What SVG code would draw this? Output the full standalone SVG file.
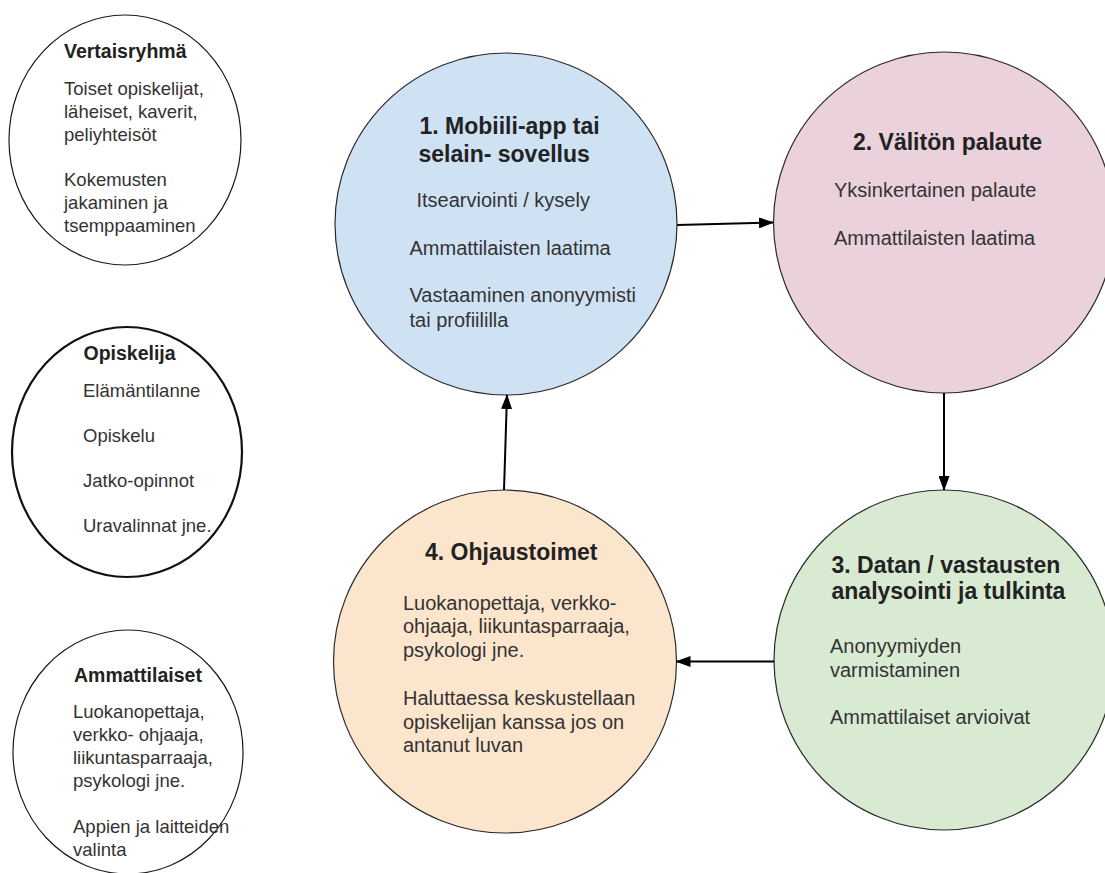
<svg xmlns="http://www.w3.org/2000/svg" width="1105" height="873" viewBox="0 0 1105 873">
  <style>
    text { font-family: "Liberation Sans", Arial, sans-serif; }
    .side { fill: #ffffff; stroke: #1a1a1a; stroke-width: 1.2; }
    .side-bold { fill: #ffffff; stroke: #111111; stroke-width: 2.2; }
    .step { stroke: #2a2a2a; stroke-width: 1.2; }
    .t-side { font-size: 19.5px; font-weight: bold; fill: #222222; }
    .b-side { font-size: 18.5px; fill: #333333; }
    .t-step { font-size: 23px; font-weight: bold; fill: #222222; }
    .b-step { font-size: 20px; fill: #333333; }
    .conn { stroke: #000000; stroke-width: 2; fill: none; marker-end: url(#head); }
  </style>
  <defs>
    <marker id="head" markerUnits="userSpaceOnUse" markerWidth="15" markerHeight="11" refX="14" refY="5.5" orient="auto">
      <path d="M0,0 L15,5.5 L0,11 Z" fill="#000000"/>
    </marker>
  </defs>

  <rect width="1105" height="873" fill="#ffffff"/>

  <!-- side groups -->
  <g id="vertaisryhma">
    <ellipse class="side" cx="125" cy="140" rx="116" ry="125"/>
    <text class="t-side" x="64" y="57.5">Vertaisryhmä</text>
    <text class="b-side" x="64" y="94.5">Toiset opiskelijat,</text>
    <text class="b-side" x="64" y="117.5">läheiset, kaverit,</text>
    <text class="b-side" x="64" y="140.5">peliyhteisöt</text>
    <text class="b-side" x="64" y="186">Kokemusten</text>
    <text class="b-side" x="64" y="209">jakaminen ja</text>
    <text class="b-side" x="64" y="232">tsemppaaminen</text>
  </g>

  <g id="opiskelija">
    <ellipse class="side-bold" cx="127" cy="452" rx="115" ry="125"/>
    <text class="t-side" x="83.5" y="359.5">Opiskelija</text>
    <text class="b-side" x="83" y="397">Elämäntilanne</text>
    <text class="b-side" x="83" y="442">Opiskelu</text>
    <text class="b-side" x="83" y="487">Jatko-opinnot</text>
    <text class="b-side" x="83" y="532">Uravalinnat jne.</text>
  </g>

  <g id="ammattilaiset">
    <ellipse class="side" cx="128" cy="752" rx="115" ry="122"/>
    <text class="t-side" x="74" y="682">Ammattilaiset</text>
    <text class="b-side" x="73" y="718">Luokanopettaja,</text>
    <text class="b-side" x="73" y="741">verkko- ohjaaja,</text>
    <text class="b-side" x="73" y="764">liikuntasparraaja,</text>
    <text class="b-side" x="73" y="787">psykologi jne.</text>
    <text class="b-side" x="73" y="833">Appien ja laitteiden</text>
    <text class="b-side" x="73" y="856">valinta</text>
  </g>

  <!-- cycle steps -->
  <g id="step1">
    <circle class="step" cx="506" cy="224" r="171" fill="#cfe2f3"/>
    <text class="t-step" x="419.5" y="134">1. Mobiili-app tai</text>
    <text class="t-step" x="418.5" y="161.5">selain- sovellus</text>
    <text class="b-step" x="416.5" y="207">Itsearviointi / kysely</text>
    <text class="b-step" x="409.5" y="254.5">Ammattilaisten laatima</text>
    <text class="b-step" x="409.5" y="302">Vastaaminen anonyymisti</text>
    <text class="b-step" x="409.5" y="326.5">tai profiililla</text>
  </g>

  <g id="step2">
    <circle class="step" cx="944" cy="222.5" r="170.5" fill="#ead1dc"/>
    <text class="t-step" x="853" y="150">2. Välitön palaute</text>
    <text class="b-step" x="834" y="197">Yksinkertainen palaute</text>
    <text class="b-step" x="834" y="245">Ammattilaisten laatima</text>
  </g>

  <g id="step3">
    <circle class="step" cx="944" cy="660" r="170" fill="#d9ead3"/>
    <text class="t-step" x="831.5" y="572.5">3. Datan / vastausten</text>
    <text class="t-step" x="831.5" y="598.5">analysointi ja tulkinta</text>
    <text class="b-step" x="830" y="653">Anonyymiyden</text>
    <text class="b-step" x="830" y="676.5">varmistaminen</text>
    <text class="b-step" x="830" y="723.5">Ammattilaiset arvioivat</text>
  </g>

  <g id="step4">
    <circle class="step" cx="505" cy="661.5" r="171.5" fill="#fce5cd"/>
    <text class="t-step" x="425" y="560">4. Ohjaustoimet</text>
    <text class="b-step" x="403" y="609.5">Luokanopettaja, verkko-</text>
    <text class="b-step" x="403" y="633">ohjaaja, liikuntasparraaja,</text>
    <text class="b-step" x="403" y="656.5">psykologi jne.</text>
    <text class="b-step" x="403" y="705">Haluttaessa keskustellaan</text>
    <text class="b-step" x="403" y="728.5">opiskelijan kanssa jos on</text>
    <text class="b-step" x="403" y="752">antanut luvan</text>
  </g>

  <!-- connectors -->
  <g id="connectors">
    <line class="conn" x1="677" y1="225" x2="773" y2="222.5"/>
    <line class="conn" x1="944" y1="393" x2="944" y2="490"/>
    <line class="conn" x1="774" y1="661.5" x2="676.5" y2="661.5"/>
    <line class="conn" x1="504" y1="490" x2="507" y2="395"/>
  </g>
</svg>
